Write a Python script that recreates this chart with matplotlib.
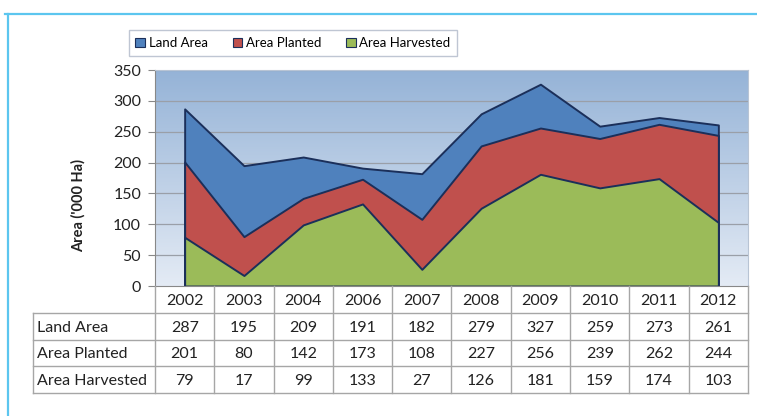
import numpy as np
import matplotlib
matplotlib.use("Agg")
import matplotlib.pyplot as plt
from matplotlib.patches import Patch
from matplotlib.lines import Line2D

plt.rcParams['font.family'] = ['Lato', 'DejaVu Sans']

years = ['2002', '2003', '2004', '2006', '2007', '2008', '2009', '2010', '2011', '2012']
land_area = [287, 195, 209, 191, 182, 279, 327, 259, 273, 261]
area_planted = [201, 80, 142, 173, 108, 227, 256, 239, 262, 244]
area_harvested = [79, 17, 99, 133, 27, 126, 181, 159, 174, 103]
series_names = ['Land Area', 'Area Planted', 'Area Harvested']
colors = ['#4f81bd', '#c0504d', '#9bbb59']
edge = '#1b2f5a'

W, H = 757, 416
fig = plt.figure(figsize=(W / 100, H / 100), dpi=100)

# plot area in pixel terms
L, R, T, B = 155, 748, 70, 286
ax = fig.add_axes([L / W, 1 - B / H, (R - L) / W, (B - T) / H])
x = np.arange(len(years))
ax.set_xlim(-0.5, len(years) - 0.5)
ax.set_ylim(0, 350)

# gradient background
grad = np.linspace(0, 1, 256).reshape(-1, 1)
top = np.array([0x95, 0xb3, 0xd7]) / 255
bot = np.array([0xe4, 0xeb, 0xf5]) / 255
img = bot + (top - bot) * grad
ax.imshow(img[:, None, :].repeat(2, axis=1), extent=(-0.5, len(years) - 0.5, 0, 350),
          origin='lower', aspect='auto', zorder=0)

for v in range(50, 351, 50):
    ax.axhline(v, color='#9a9fa8', lw=0.9, zorder=1)

for vals, c in zip([land_area, area_planted, area_harvested], colors):
    ax.fill_between(x, 0, vals, facecolor=c, edgecolor=edge, lw=1.4, zorder=2)

ax.set_yticks(range(0, 351, 50))
ax.tick_params(axis='y', length=5, width=0.8, color='#888888', labelsize=11.5,
               labelcolor='#222222', pad=5)
ax.set_xticks([])
for s in ['top', 'right']:
    ax.spines[s].set_color('#b8c4d4')
ax.spines['left'].set_color('#888888')
ax.spines['bottom'].set_color('#888888')

fig.text(78 / W, 1 - 205 / H, "Area ('000 Ha)", rotation=90, ha='center', va='center',
         fontsize=10.5, fontweight='bold', color='#222222')

# data table under the plot
TL, TB = 33, 393
tab = fig.add_axes([TL / W, 1 - TB / H, (R - TL) / W, (TB - B) / H])
tab.set_xlim(TL, R)
tab.set_ylim(TB, B)
tab.axis('off')
rows_y = [286, 313, 340, 366, 393]
colw = (R - L) / len(years)
col_x = [L + i * colw for i in range(len(years) + 1)]
lc = '#a6a6a6'
for cx in col_x:
    tab.plot([cx, cx], [rows_y[0], rows_y[-1]], color=lc, lw=1, clip_on=False)
tab.plot([TL, TL], [rows_y[1], rows_y[-1]], color=lc, lw=1, clip_on=False)
for ry in rows_y[1:]:
    tab.plot([TL, R], [ry, ry], color=lc, lw=1, clip_on=False)
for i, yr in enumerate(years):
    tab.text(L + (i + 0.5) * colw, (rows_y[0] + rows_y[1]) / 2 + 1, yr,
             ha='center', va='center', fontsize=11.5, color='#222222')
for r, (name, vals) in enumerate(zip(series_names, [land_area, area_planted, area_harvested])):
    cy = (rows_y[r + 1] + rows_y[r + 2]) / 2 + 1
    tab.text(TL + 4, cy, name, ha='left', va='center', fontsize=11.5, color='#222222')
    for i, v in enumerate(vals):
        tab.text(L + (i + 0.5) * colw, cy, str(v), ha='center', va='center',
                 fontsize=11.5, color='#222222')

# legend
handles = [Patch(facecolor=c, edgecolor=edge, lw=0.8) for c in colors]
fig.legend(handles, series_names, loc='center', ncol=3,
           bbox_to_anchor=(293 / W, 1 - 43 / H), frameon=True, fontsize=9.5,
           fancybox=False, edgecolor='#b0b8c8', handlelength=0.7, handleheight=0.7,
           handletextpad=0.3, columnspacing=1.9, borderpad=0.5, borderaxespad=0)

# outer frame lines
fig.add_artist(Line2D([5 / W, 1], [1 - 13.5 / H, 1 - 13.5 / H], color='#5cc6ef', lw=1.6,
                      transform=fig.transFigure))
fig.add_artist(Line2D([8 / W, 8 / W], [0, 1 - 13.5 / H], color='#5cc6ef', lw=1.6,
                      transform=fig.transFigure))

fig.savefig('out.png', dpi=100)
